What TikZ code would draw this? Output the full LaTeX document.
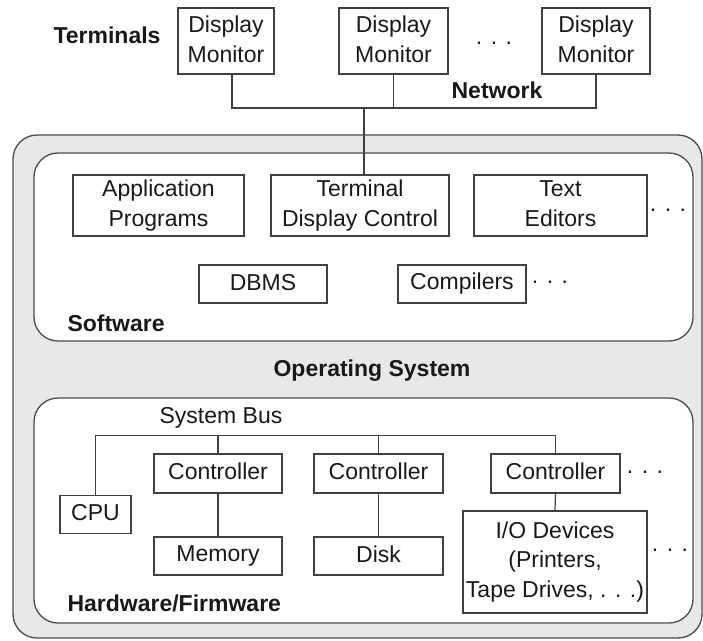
\documentclass[tikz,border=0pt]{standalone}
\usepackage{fontspec}
\setmainfont{Liberation Sans}
\newcommand{\vs}{\rule[-4.5pt]{0pt}{21pt}}
\begin{document}
\begin{tikzpicture}[x=1pt,y=-1pt,
  every node/.style={font=\fontsize{23}{30}\selectfont, text=black!90},
  lbl/.style={font=\fontsize{23}{30}\selectfont\bfseries},
  boxn/.style={draw=black!75, line width=1.2pt, fill=white, inner sep=0pt, align=center},
  wire/.style={draw=black!75, line width=1.2pt},
  panel/.style={draw=black!70, line width=1.3pt, rounded corners=24pt},
  dotsn/.style={inner sep=0pt}
]
\useasboundingbox (0,0) rectangle (703,640);
% outer OS panel
\path[panel, fill=black!9] (13,135) rectangle (702,638);
% software panel
\path[panel, fill=white] (34,153) rectangle (693,341);
% hardware panel
\path[panel, fill=white] (34,398) rectangle (693,623);

% terminals
\node[lbl] (term) at (107,37) {\vs Terminals};
\node[boxn, minimum width=96pt, minimum height=66pt] (dm1) at (226,41) {\vs Display\\\vs Monitor};
\node[boxn, minimum width=109pt, minimum height=66pt] (dm2) at (393.5,41) {\vs Display\\\vs Monitor};
\node[dotsn] (dt1) at (494,43) {. . .};
\node[boxn, minimum width=108pt, minimum height=66pt] (dm3) at (596,41) {\vs Display\\\vs Monitor};
\node[lbl] (netl) at (497,92) {\vs Network};
\coordinate (net) at (364,108);

% software
\node[boxn, minimum width=171pt, minimum height=61pt] (app) at (158.5,205.5) {\vs Application\\\vs Programs};
\node[boxn, minimum width=178pt, minimum height=61pt] (tdc) at (360,205.5) {\vs Terminal\\\vs Display Control};
\node[boxn, minimum width=173pt, minimum height=61pt] (ted) at (560.5,205.5) {\vs Text\\\vs Editors};
\node[dotsn] (dt2) at (668,210) {. . .};
\node[boxn, minimum width=128pt, minimum height=38pt] (dbms) at (263,284) {\vs DBMS};
\node[boxn, minimum width=128pt, minimum height=38pt] (comp) at (462,284) {\vs Compilers};
\node[dotsn] (dt3) at (550,282) {. . .};
\node[lbl, anchor=west] (sw) at (64,325) {\vs Software};

\node[lbl] (os) at (372,371) {\vs Operating System};

% hardware
\node (sbus) at (221,418) {\vs System Bus};
\coordinate (bus) at (95.5,435.5);
\node[boxn, minimum width=71pt, minimum height=38pt] (cpu) at (95.5,514.5) {\vs CPU};
\node[boxn, minimum width=128pt, minimum height=39pt] (c1) at (218,473.5) {\vs Controller};
\node[boxn, minimum width=128pt, minimum height=38pt] (mem) at (218,556) {\vs Memory};
\node[boxn, minimum width=129pt, minimum height=39pt] (c2) at (378.5,473.5) {\vs Controller};
\node[boxn, minimum width=129pt, minimum height=38pt] (disk) at (378.5,556) {\vs Disk};
\node[boxn, minimum width=129pt, minimum height=39pt] (c3) at (555.5,473.5) {\vs Controller};
\node[dotsn] (dt4) at (645,472) {. . .};
\node[boxn, minimum width=184pt, minimum height=102pt, font=\fontsize{23}{29.5}\selectfont] (io) at (555,562) {\vs I/O Devices\\\vs (Printers,\\\vs Tape Drives, . . .)};
\node[dotsn] (dt5) at (670,550) {. . .};
\node[lbl, anchor=west] (hw) at (64,605) {\vs Hardware/Firmware};

% network wires
\draw[wire] ([xshift=6pt]dm1.south) |- (dm3.south |- net) -- (dm3.south);
\draw[wire] (dm2.south) -- (dm2.south |- net);
\draw[wire] (net) -- (net |- tdc.north);

% bus wires
\draw[wire] (cpu.north) |- (c3.north |- bus) -- (c3.north);
\draw[wire] (c1.north) -- (c1.north |- bus);
\draw[wire] (c2.north) -- (c2.north |- bus);
\draw[wire] (c1.south) -- (mem.north);
\draw[wire] (c2.south) -- (disk.north);
\draw[wire] (c3.south) -- (io.north);
\end{tikzpicture}
\end{document}
